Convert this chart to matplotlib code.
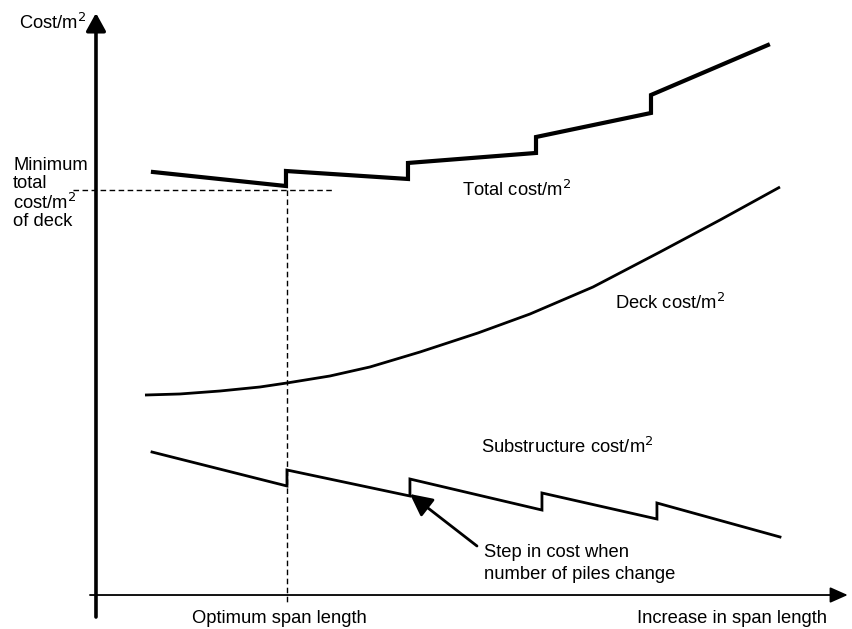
import matplotlib.pyplot as plt

plt.rcParams['font.family'] = ['Liberation Sans', 'DejaVu Sans']

# Span length (arbitrary units, 0-100) and cost/m2 (arbitrary units, 0-100)
total_x = [7.56, 25.2, 25.2, 41.38, 41.38, 58.36, 58.36, 73.61, 73.61, 89.12]
total_y = [72.68, 70.27, 72.85, 71.48, 74.23, 75.95, 78.69, 82.82, 85.91, 94.50]

deck_x = [6.50, 11.14, 16.45, 21.75, 25.33, 31.03, 36.34, 42.97, 50.66,
          57.56, 65.92, 74.80, 82.76, 90.72]
deck_y = [34.36, 34.54, 35.05, 35.74, 36.43, 37.63, 39.18, 41.75, 45.02,
          48.28, 52.92, 58.93, 64.43, 70.10]

sub_x = [7.43, 25.33, 25.33, 41.64, 41.64, 59.15, 59.15, 74.40, 74.40, 90.72]
sub_y = [24.57, 18.73, 21.48, 17.01, 19.93, 14.60, 17.53, 13.06, 15.81, 9.97]

optimum_span = 25.3
min_total = 69.6
pile_step = (41.64, 17.35)

fig = plt.figure(figsize=(8.52, 6.29), dpi=100)
ax = fig.add_axes([0, 0, 1, 1])
ax.set_xlim(-12.73, 100.27)
ax.set_ylim(-5.84, 102.23)
ax.axis('off')

fs = 13.2

# axes with arrows
ax.annotate('', xy=(0, 100), xytext=(0, -3.78),
            arrowprops=dict(arrowstyle='-|>,head_length=0.4,head_width=0.22',
                            lw=2.6, color='black', mutation_scale=27,
                            shrinkA=0, shrinkB=0))
ax.annotate('', xy=(99.7, 0), xytext=(-0.8, 0),
            arrowprops=dict(arrowstyle='-|>,head_length=0.45,head_width=0.2',
                            lw=1.3, color='black', mutation_scale=24,
                            shrinkA=0, shrinkB=0))

# guide lines for optimum
ax.plot([-3.05, 31.56], [min_total, min_total], color='black', lw=1.0,
        dashes=(4, 2.5))
ax.plot([optimum_span, optimum_span], [min_total, -1.72], color='black',
        lw=1.0, dashes=(4, 2.5))

# curves
ax.plot(total_x, total_y, color='black', lw=3.0, solid_joinstyle='miter')
ax.plot(deck_x, deck_y, color='black', lw=2.0, solid_capstyle='butt')
ax.plot(sub_x, sub_y, color='black', lw=2.0, solid_joinstyle='miter')

# labels
ax.text(-10.21, 98.28, 'Cost/m$^2$', fontsize=fs, va='center', ha='left')
for txt, yy in zip(['Minimum', 'total', 'cost/m$^2$', 'of deck'],
                   [73.88, 70.62, 67.35, 64.09]):
    ax.text(-11.0, yy, txt, fontsize=fs, va='center', ha='left')

ax.text(48.54, 69.59, 'Total cost/m$^2$', fontsize=fs, va='center')
ax.text(68.83, 50.17, 'Deck cost/m$^2$', fontsize=fs, va='center')
ax.text(51.06, 25.43, 'Substructure cost/m$^2$', fontsize=fs, va='center')

ax.annotate('', xy=pile_step, xytext=(50.53, 8.42),
            arrowprops=dict(arrowstyle='-|>,head_length=0.5,head_width=0.25',
                            lw=2.0, color='black', mutation_scale=27,
                            shrinkA=0, shrinkB=0))
ax.text(51.46, 7.22, 'Step in cost when', fontsize=fs, va='center')
ax.text(51.46, 3.44, 'number of piles change', fontsize=fs, va='center')

ax.text(24.3, -4.0, 'Optimum span length', fontsize=fs, va='center',
        ha='center')
ax.text(96.95, -4.0, 'Increase in span length', fontsize=fs, va='center',
        ha='right')

fig.savefig('out.png', dpi=100, facecolor='white')
